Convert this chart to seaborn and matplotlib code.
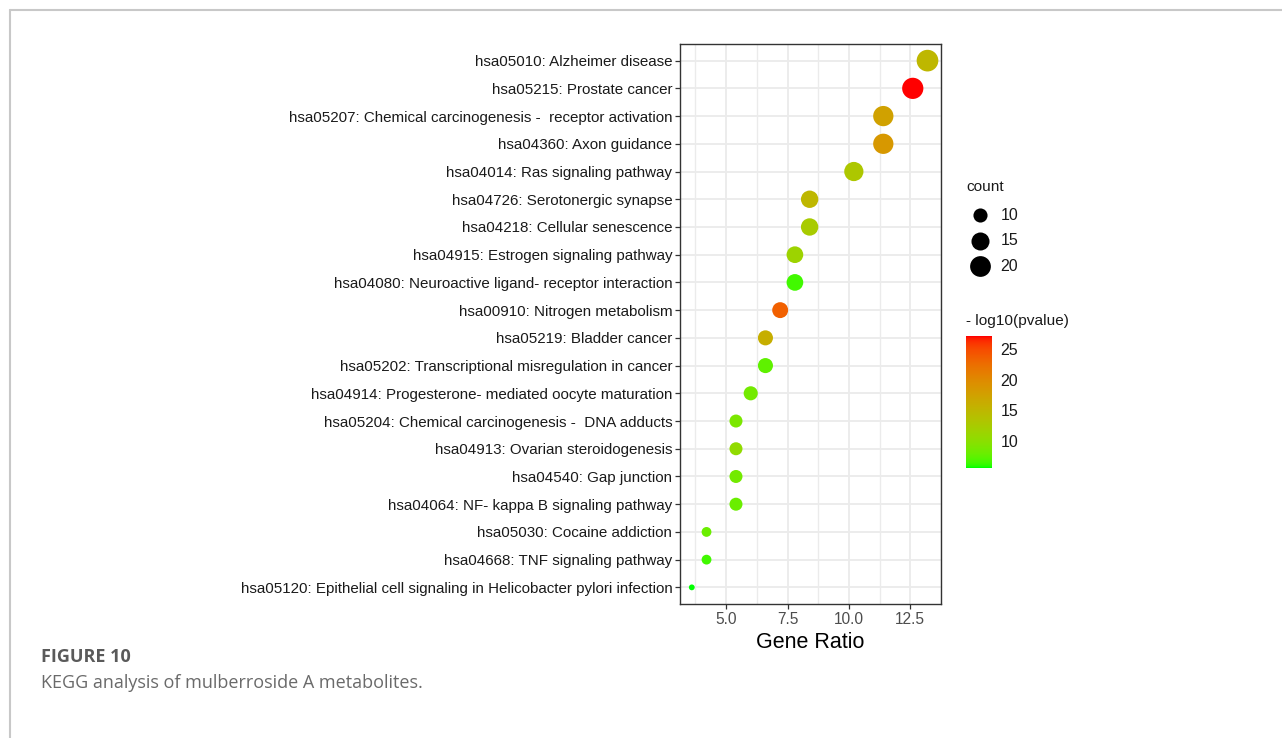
import numpy as np
import pandas as pd
import matplotlib
matplotlib.use("Agg")
import matplotlib.pyplot as plt
from matplotlib.colors import ListedColormap, Normalize, PowerNorm
from matplotlib.cm import ScalarMappable
from matplotlib.lines import Line2D
import seaborn as sns

# ---- data ---------------------------------------------------------------
pathways = [
    "hsa05010: Alzheimer disease",
    "hsa05215: Prostate cancer",
    "hsa05207: Chemical carcinogenesis -  receptor activation",
    "hsa04360: Axon guidance",
    "hsa04014: Ras signaling pathway",
    "hsa04726: Serotonergic synapse",
    "hsa04218: Cellular senescence",
    "hsa04915: Estrogen signaling pathway",
    "hsa04080: Neuroactive ligand- receptor interaction",
    "hsa00910: Nitrogen metabolism",
    "hsa05219: Bladder cancer",
    "hsa05202: Transcriptional misregulation in cancer",
    "hsa04914: Progesterone- mediated oocyte maturation",
    "hsa05204: Chemical carcinogenesis -  DNA adducts",
    "hsa04913: Ovarian steroidogenesis",
    "hsa04540: Gap junction",
    "hsa04064: NF- kappa B signaling pathway",
    "hsa05030: Cocaine addiction",
    "hsa04668: TNF signaling pathway",
    "hsa05120: Epithelial cell signaling in Helicobacter pylori infection",
]
gene_ratio = [13.2, 12.6, 11.4, 11.4, 10.2, 8.4, 8.4, 7.8, 7.8, 7.2,
              6.6, 6.6, 6.0, 5.4, 5.4, 5.4, 5.4, 4.2, 4.2, 3.6]
count = [22, 21, 19, 19, 17, 14, 14, 13, 13, 12,
         11, 11, 10, 9, 9, 9, 9, 7, 7, 6]
neg_log10_p = [15.0, 27.1, 17.5, 18.5, 13.0, 15.0, 12.5, 11.5, 6.5, 23.5,
               16.0, 7.5, 8.5, 9.0, 10.5, 8.5, 8.0, 8.0, 6.5, 5.65]

size_legend_values = [10, 15, 20]
color_ticks = [10, 15, 20, 25]
x_ticks = [5.0, 7.5, 10.0, 12.5]

df = pd.DataFrame({"pathway": pathways, "ratio": gene_ratio,
                   "count": count, "logp": neg_log10_p})


# ---- green -> red gradient interpolated in CIE Lab ------------------------
def _srgb_to_lab(rgb):
    c = np.asarray(rgb, float)
    c = np.where(c <= 0.04045, c / 12.92, ((c + 0.055) / 1.055) ** 2.4)
    m = np.array([[0.4124564, 0.3575761, 0.1804375],
                  [0.2126729, 0.7151522, 0.0721750],
                  [0.0193339, 0.1191920, 0.9503041]])
    xyz = m @ c / np.array([0.95047, 1.0, 1.08883])
    f = np.where(xyz > 216 / 24389, np.cbrt(xyz), (24389 / 27 * xyz + 16) / 116)
    return np.array([116 * f[1] - 16, 500 * (f[0] - f[1]), 200 * (f[1] - f[2])])


def _lab_to_srgb(lab):
    L, a, b = lab
    fy_ = (L + 16) / 116
    fx_ = fy_ + a / 500
    fz_ = fy_ - b / 200
    f = np.array([fx_, fy_, fz_])
    xyz = np.where(f ** 3 > 216 / 24389, f ** 3, (116 * f - 16) / (24389 / 27))
    xyz = xyz * np.array([0.95047, 1.0, 1.08883])
    minv = np.array([[3.2404542, -1.5371385, -0.4985314],
                     [-0.9692660, 1.8760108, 0.0415560],
                     [0.0556434, -0.2040259, 1.0572252]])
    c = minv @ xyz
    c = np.where(c <= 0.0031308, 12.92 * c, 1.055 * np.clip(c, 0, None) ** (1 / 2.4) - 0.055)
    return np.clip(c, 0, 1)


lab_lo = _srgb_to_lab([0, 1, 0])
lab_hi = _srgb_to_lab([1, 0, 0])
grad = [_lab_to_srgb(lab_lo + t * (lab_hi - lab_lo)) for t in np.linspace(0, 1, 256)]
cmap = ListedColormap(grad)
cnorm = Normalize(vmin=min(neg_log10_p), vmax=max(neg_log10_p))

# ---- figure --------------------------------------------------------------
sns.set_theme(style="white")
plt.rcParams["font.family"] = ["Liberation Sans", "DejaVu Sans"]
TXT = "#1A1A1A"

W, H = 1282, 738
fig = plt.figure(figsize=(W / 100, H / 100), dpi=100)
fig.patch.set_facecolor("white")


def fx(px):
    return px / W


def fy(py):
    return 1 - py / H


ax = fig.add_axes([fx(680), fy(604), fx(941) - fx(680), fy(44) - fy(604)])

# point area (pt^2) grows with count through a power scale
size_min, size_max = 17.6, 243.6
snorm = PowerNorm(gamma=0.7, vmin=min(count), vmax=max(count))
sns.scatterplot(data=df, x="ratio", y="pathway", hue="logp", size="count",
                hue_norm=cnorm, palette=cmap, sizes=(size_min, size_max),
                size_norm=snorm, linewidth=0, legend=False, ax=ax, zorder=3)

span = max(gene_ratio) - min(gene_ratio)
ax.set_xlim(min(gene_ratio) - 0.05 * span, max(gene_ratio) + 0.05 * span)
ax.set_ylim(len(pathways) - 0.4, -0.6)
ax.set_xticks(x_ticks)
ax.set_xticklabels([f"{v:.1f}" for v in x_ticks])
ax.set_xticks([v - 1.25 for v in x_ticks] + [x_ticks[-1] + 1.25], minor=True)

ax.set_facecolor("white")
ax.grid(True, which="major", color="#EBEBEB", linewidth=1.3, zorder=0)
ax.grid(True, which="minor", axis="x", color="#EBEBEB", linewidth=1.0, zorder=0)
ax.set_axisbelow(True)
for s in ax.spines.values():
    s.set_color("#333333")
    s.set_linewidth(1.0)

ax.tick_params(axis="both", which="major", length=3.5, width=0.9, color="#333333",
               direction="out", bottom=True, left=True)
ax.tick_params(axis="both", which="minor", length=0)
ax.tick_params(axis="y", labelsize=10.9, labelcolor=TXT, pad=2)
ax.tick_params(axis="x", labelsize=11.2, labelcolor="#4D4D4D", pad=2)
ax.set_ylabel("")
ax.set_xlabel("Gene Ratio", fontsize=15.5, color="#000000", labelpad=4)

# ---- size legend ---------------------------------------------------------
fig.text(fx(966), fy(187), "count", fontsize=11.1, color=TXT, va="center", ha="left")
leg_ax = fig.add_axes([fx(960), fy(280), fx(60), fy(0) - fy(80)])
leg_ax.set_axis_off()
leg_ax.set_xlim(0, 60)
leg_ax.set_ylim(80, 0)
leg_y = [215 - 200, 240.5 - 200, 266 - 200]
for v, yy in zip(size_legend_values, leg_y):
    area = size_min + float(snorm(v)) * (size_max - size_min)
    leg_ax.scatter([20], [yy], s=area, color="black", linewidth=0)
    leg_ax.text(40.5, yy, str(v), fontsize=11.5, color=TXT, va="center", ha="left")

# ---- colour bar ----------------------------------------------------------
fig.text(fx(966), fy(321), "- log10(pvalue)", fontsize=11.1, color=TXT,
         va="center", ha="left")
cax = fig.add_axes([fx(966), fy(468), fx(992) - fx(966), fy(336) - fy(468)])
cb = fig.colorbar(ScalarMappable(norm=cnorm, cmap=cmap), cax=cax)
cb.outline.set_visible(False)
cb.set_ticks(color_ticks)
cb.ax.tick_params(left=True, right=True, direction="in", length=4, width=0.8,
                  color="white", labelsize=11.5, labelcolor=TXT, pad=6)

# ---- caption panel -------------------------------------------------------
fig.add_artist(Line2D([fx(9.5), 1.0], [fy(9.5), fy(9.5)], color="#C8C8C8", linewidth=1.5))
fig.add_artist(Line2D([fx(9.5), fx(9.5)], [fy(9.5), 0.0], color="#C8C8C8", linewidth=1.5))
fig.text(fx(41), fy(657), "FIGURE 10", fontsize=13, fontweight="bold", color="#5A5A5A",
         family=["Open Sans", "DejaVu Sans"], va="center", ha="left")
fig.text(fx(41), fy(683), "KEGG analysis of mulberroside A metabolites.", fontsize=13,
         color="#6A6A6A", family=["Open Sans", "DejaVu Sans"], va="center", ha="left")

fig.savefig("out.png", dpi=100, facecolor="white")
